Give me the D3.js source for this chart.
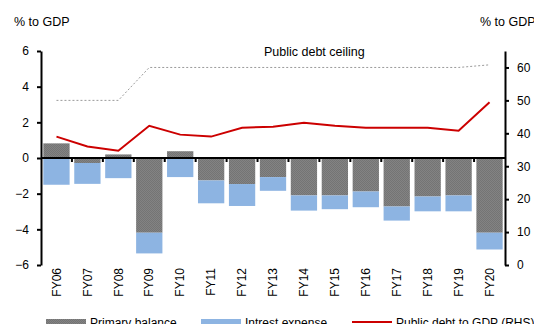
<!DOCTYPE html>
<html>
<head>
<meta charset="utf-8">
<script src="https://cdn.jsdelivr.net/npm/d3@7"></script>
<style>
  body { margin: 0; background: #fff; }
  svg { display: block; font-family: "Liberation Sans", Arial, sans-serif; }
</style>
</head>
<body>
<svg id="chart"></svg>
<script>
// Fiscal years on the x axis
const years = ["FY06", "FY07", "FY08", "FY09", "FY10", "FY11", "FY12", "FY13",
  "FY14", "FY15", "FY16", "FY17", "FY18", "FY19", "FY20"]

// % to GDP, left axis
const primaryBalance = [0.82, -0.28, 0.2, -4.19, 0.38, -1.26, -1.46, -1.07,
  -2.1, -2.1, -1.88, -2.72, -2.16, -2.1, -4.19]
const interestExpense = [-1.5, -1.17, -1.13, -1.16, -1.07, -1.28, -1.23, -0.77,
  -0.85, -0.77, -0.88, -0.79, -0.83, -0.89, -0.94]

// % to GDP, right axis
const publicDebt = [39.0, 36.0, 34.7, 42.3, 39.6, 39.0, 41.7, 42.0,
  43.2, 42.3, 41.7, 41.7, 41.7, 40.8, 49.4]
const debtCeiling = [50, 50, 50, 60, 60, 60, 60, 60,
  60, 60, 60, 60, 60, 60, 60.8]

const leftTicks = [-6, -4, -2, 0, 2, 4, 6]
const rightTicks = [0, 10, 20, 30, 40, 50, 60]

const width = 534
const height = 324
const plotLeft = 41, plotRight = 505, plotTop = 51, plotBottom = 265

const svg = d3.select("#chart")
  .attr("width", width)
  .attr("height", height)

// Fine dither texture for the primary balance bars
const pattern = svg.append("defs").append("pattern")
  .attr("id", "dither")
  .attr("width", 2).attr("height", 2)
  .attr("patternUnits", "userSpaceOnUse")
pattern.append("rect").attr("width", 2).attr("height", 2).attr("fill", "#838383")
pattern.append("rect").attr("width", 1).attr("height", 1).attr("fill", "#747474")
pattern.append("rect").attr("x", 1).attr("y", 1).attr("width", 1).attr("height", 1).attr("fill", "#747474")

const x = d3.scaleBand()
  .domain(years)
  .range([plotLeft, plotRight])
  .paddingInner(0.15)
  .paddingOuter(0.075)

const y = d3.scaleLinear().domain([-6, 6]).range([plotBottom, plotTop])
const y2 = d3.scaleLinear().domain([0, 65]).range([plotBottom, plotTop])

const rows = years.map((yr, i) => ({
  year: yr,
  primary: primaryBalance[i],
  interest: interestExpense[i]
}))

// Diverging stack: interest sits below the primary balance when that is negative
const series = d3.stack()
  .keys(["primary", "interest"])
  .offset(d3.stackOffsetDiverging)(rows)

const colors = { primary: "url(#dither)", interest: "#8db4e2" }

svg.append("g")
  .selectAll("g")
  .data(series)
  .join("g")
  .attr("fill", s => colors[s.key])
  .selectAll("rect")
  .data(s => s)
  .join("rect")
  .attr("x", d => x(d.data.year))
  .attr("width", x.bandwidth())
  .attr("y", d => y(Math.max(d[0], d[1])))
  .attr("height", d => Math.abs(y(d[0]) - y(d[1])))

// Zero line with category ticks
const zeroAxis = svg.append("g")
  .attr("transform", `translate(0, ${y(0)})`)
zeroAxis.append("line")
  .attr("x1", plotLeft).attr("x2", plotRight)
  .attr("stroke", "#000").attr("stroke-width", 2)
zeroAxis.selectAll("line.tick")
  .data(years.slice(1))
  .join("line")
  .attr("class", "tick")
  .attr("x1", d => x(d) - x.step() * x.paddingInner() / 2)
  .attr("x2", d => x(d) - x.step() * x.paddingInner() / 2)
  .attr("y1", 0).attr("y2", 4)
  .attr("stroke", "#000").attr("stroke-width", 2)

// Category labels, rotated
svg.append("g")
  .selectAll("text")
  .data(years)
  .join("text")
  .attr("transform", d => `translate(${x(d) + x.bandwidth() / 2}, 268) rotate(-90)`)
  .attr("text-anchor", "end")
  .attr("dy", "0.35em")
  .attr("font-size", 12)
  .text(d => d)

// Debt ceiling, dashed
const lineGen = d3.line()
  .x((d, i) => x(years[i]) + x.bandwidth() / 2)
  .y(d => y2(d))

svg.append("path")
  .datum(debtCeiling)
  .attr("d", lineGen)
  .attr("fill", "none")
  .attr("stroke", "#9a9a9a")
  .attr("stroke-width", 1)
  .attr("stroke-dasharray", "2,2")

svg.append("path")
  .datum(publicDebt)
  .attr("d", lineGen)
  .attr("fill", "none")
  .attr("stroke", "#cc0000")
  .attr("stroke-width", 2)

// Axes
const styleAxis = g => {
  g.select(".domain").attr("stroke-width", 2)
  g.selectAll(".tick line").attr("stroke-width", 2)
  g.selectAll(".tick text")
    .attr("font-size", 12)
    .attr("font-family", "Liberation Sans, Arial, sans-serif")
    .attr("fill", "#000")
}

svg.append("g")
  .attr("transform", `translate(${plotLeft}, 0)`)
  .call(d3.axisLeft(y).tickValues(leftTicks).tickSize(4).tickSizeOuter(0).tickPadding(8))
  .call(styleAxis)

svg.append("g")
  .attr("transform", `translate(${plotRight}, 0)`)
  .call(d3.axisRight(y2).tickValues(rightTicks).tickSize(4).tickSizeOuter(0).tickPadding(8))
  .call(styleAxis)

// Titles
svg.append("text")
  .attr("x", 14).attr("y", 26)
  .attr("font-size", 12.5)
  .text("% to GDP")

svg.append("text")
  .attr("x", 480).attr("y", 26)
  .attr("font-size", 12.5)
  .text("% to GDP")

svg.append("text")
  .attr("x", 264).attr("y", 56)
  .attr("font-size", 12.5)
  .text("Public debt ceiling")

// Legend (partially clipped at bottom, as in the source)
const legend = svg.append("g").attr("font-size", 12)
legend.append("rect")
  .attr("x", 46).attr("y", 319).attr("width", 40).attr("height", 8)
  .attr("fill", colors.primary)
legend.append("text")
  .attr("x", 90).attr("y", 327)
  .text("Primary balance")
legend.append("rect")
  .attr("x", 201).attr("y", 319).attr("width", 40).attr("height", 8)
  .attr("fill", colors.interest)
legend.append("text")
  .attr("x", 245).attr("y", 327)
  .text("Intrest expense")
legend.append("line")
  .attr("x1", 352).attr("x2", 392).attr("y1", 322).attr("y2", 322)
  .attr("stroke", "#cc0000").attr("stroke-width", 2)
legend.append("text")
  .attr("x", 396).attr("y", 327)
  .text("Public debt to GDP (RHS)")
</script>
</body>
</html>
